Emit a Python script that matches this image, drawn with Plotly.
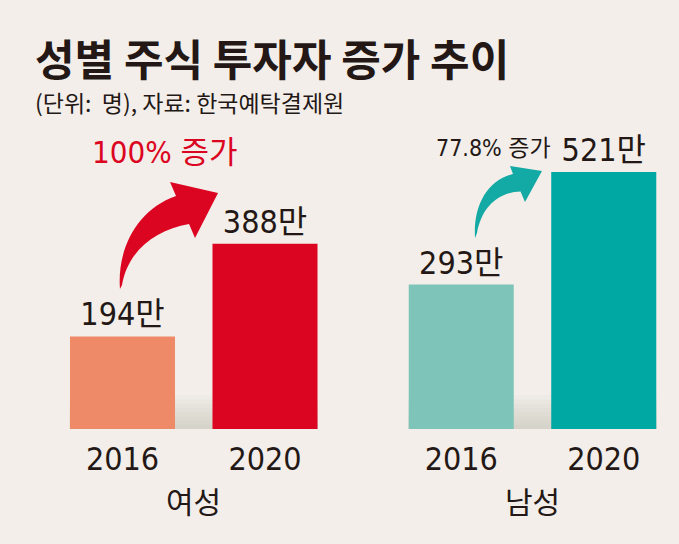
import plotly.graph_objects as go

W, H = 679, 544
years = ["2016", "2020"]
female = [194, 388]
male = [293, 521]
female_colors = ["#ee8a68", "#dc0521"]
male_colors = ["#7fc4b8", "#00a8a3"]
groups = ["여성", "남성"]
growth = ["100% 증가", "77.8% 증가"]
title = "성별 주식 투자자 증가 추이"
subtitle = "(단위:  명), 자료: 한국예탁결제원"

BG = "#f3eeea"
INK = "#231815"
NUM_FONT = "Liberation Sans Narrow, DejaVu Sans Condensed, Noto Sans CJK KR, sans-serif"
KR_FONT = "Noto Sans CJK KR, sans-serif"


def px(x, y):
    return x / W, 1 - y / H


def path(points):
    s = ""
    for cmd, pts in points:
        s += cmd + " " + " ".join("%.4f,%.4f" % px(x, y) for x, y in pts) + " "
    return s + "Z"


fig = go.Figure()
fig.add_trace(go.Bar(
    x=years, y=female, marker=dict(color=female_colors, line=dict(width=0)),
    texttemplate="%{y}만", textposition="outside", cliponaxis=False,
    textfont=dict(family=NUM_FONT, size=32, color=INK),
    xaxis="x", yaxis="y", showlegend=False, hoverinfo="skip"))
fig.add_trace(go.Bar(
    x=years, y=male, marker=dict(color=male_colors, line=dict(width=0)),
    texttemplate="%{y}만", textposition="outside", cliponaxis=False,
    textfont=dict(family=NUM_FONT, size=32, color=INK),
    xaxis="x2", yaxis="y2", showlegend=False, hoverinfo="skip"))

base = 115 / H
axis_common = dict(showgrid=False, zeroline=False, showline=False, ticks="",
                   tickfont=dict(family=NUM_FONT, size=32, color=INK),
                   ticklabelstandoff=8, fixedrange=True, type="category")
yaxis_common = dict(showgrid=False, zeroline=False, showline=False,
                    showticklabels=False, fixedrange=True)

fig.update_layout(
    width=W, height=H,
    paper_bgcolor=BG, plot_bgcolor="rgba(0,0,0,0)",
    margin=dict(l=0, r=0, t=0, b=0),
    bargap=0.263,
    xaxis=dict(domain=[51.25 / W, 336.25 / W], anchor="y", **axis_common),
    xaxis2=dict(domain=[390 / W, 675 / W], anchor="y2", **axis_common),
    yaxis=dict(domain=[base, 1], range=[0, 899], anchor="x", **yaxis_common),
    yaxis2=dict(domain=[base, 1], range=[0, 870], anchor="x2", **yaxis_common),
)

# subtle floor shading behind each pair of bars (stacked faint bands)
for xr, yr, top in (("x", "y", 70), ("x2", "y2", 68)):
    n = 8
    for i in range(n):
        fig.add_shape(type="rect", xref=xr, yref=yr, x0=-0.37, x1=1.37,
                      y0=0, y1=top * (i + 1) / n, layer="below",
                      fillcolor="rgba(190,182,176,0.07)", line=dict(width=0))

female_arrow = path([
    ("M", [(120, 289)]),
    ("C", [(117, 250), (136, 210), (176, 196)]),
    ("L", [(170, 182)]),
    ("L", [(218, 193)]),
    ("L", [(195, 238)]),
    ("L", [(189, 224)]),
    ("C", [(156, 230), (128, 250), (122, 285)]),
])
male_arrow = path([
    ("M", [(475, 238)]),
    ("C", [(473, 205), (488, 180), (513, 174)]),
    ("L", [(510, 166)]),
    ("L", [(542, 171)]),
    ("L", [(525, 202)]),
    ("L", [(520.5, 191.5)]),
    ("C", [(500, 192), (482, 205), (477, 233)]),
])
fig.add_shape(type="path", path=female_arrow, xref="paper", yref="paper",
              fillcolor="#dc0521", line=dict(width=0), layer="above")
fig.add_shape(type="path", path=male_arrow, xref="paper", yref="paper",
              fillcolor="#13a9a4", line=dict(width=0), layer="above")

ann = []
ann.append(dict(text="<b>" + title + "</b>", x=33 / W, y=1 - 57 / H, xref="paper", yref="paper",
                xanchor="left", yanchor="middle", showarrow=False,
                font=dict(family=KR_FONT, size=43, color=INK)))
ann.append(dict(text=subtitle, x=33 / W, y=1 - 102 / H, xref="paper", yref="paper",
                xanchor="left", yanchor="middle", showarrow=False,
                font=dict(family=KR_FONT, size=23, color=INK)))
ann.append(dict(text=growth[0], x=165 / W, y=1 - 152 / H, xref="paper", yref="paper",
                xanchor="center", yanchor="middle", showarrow=False,
                font=dict(family=NUM_FONT, size=31, color="#dc0521")))
ann.append(dict(text=growth[1], x=493 / W, y=1 - 148 / H, xref="paper", yref="paper",
                xanchor="center", yanchor="middle", showarrow=False,
                font=dict(family=NUM_FONT, size=23, color=INK)))
ann.append(dict(text=groups[0], x=0.5, y=1 - 500 / H, xref="x domain", yref="paper",
                xanchor="center", yanchor="middle", showarrow=False,
                font=dict(family=KR_FONT, size=30, color=INK)))
ann.append(dict(text=groups[1], x=0.5, y=1 - 500 / H, xref="x2 domain", yref="paper",
                xanchor="center", yanchor="middle", showarrow=False,
                font=dict(family=KR_FONT, size=30, color=INK)))
fig.update_layout(annotations=ann)

fig.write_html("out.html", config={"displayModeBar": False},
               post_script="document.body.style.margin='0';document.body.style.background='%s';" % BG)
